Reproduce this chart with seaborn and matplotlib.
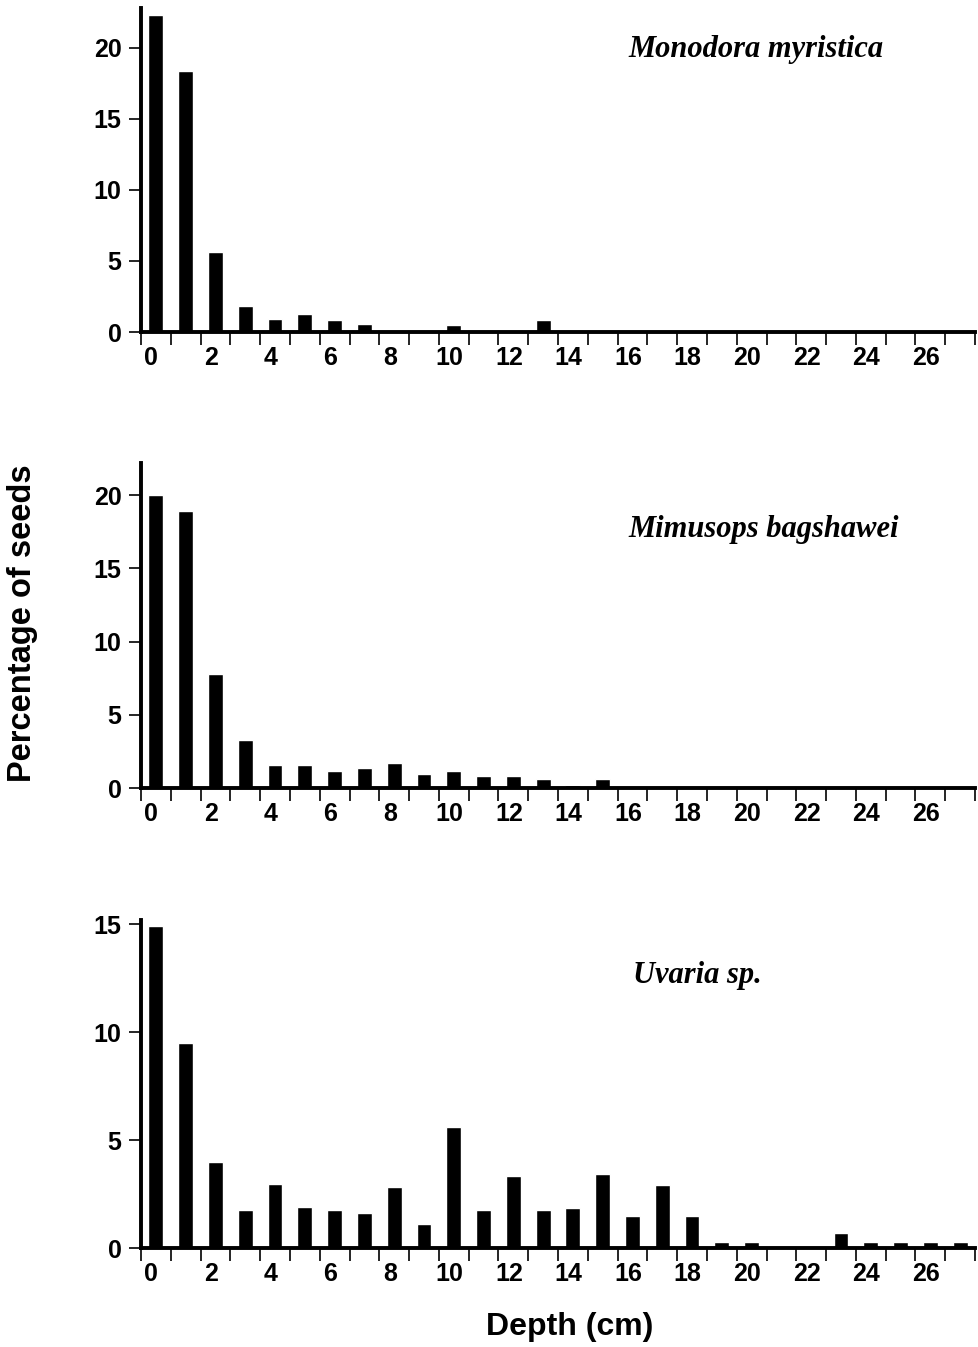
import numpy as np
import pandas as pd
import matplotlib
matplotlib.use("Agg")
import matplotlib.pyplot as plt
import seaborn as sns

# ---- data ----
depth_cm = list(range(28))
monodora = [22.3, 18.4, 5.6, 1.8, 0.9, 1.3, 0.85, 0.55, 0, 0, 0.5, 0, 0, 0.85,
            0, 0, 0, 0, 0, 0, 0, 0, 0, 0, 0, 0, 0, 0]
mimusops = [20.0, 18.9, 7.8, 3.3, 1.55, 1.55, 1.16, 1.4, 1.74, 0.98, 1.16, 0.8, 0.8, 0.64,
            0.2, 0.6, 0.15, 0.12, 0.15, 0.05, 0.05, 0, 0, 0, 0, 0, 0, 0]
uvaria = [14.9, 9.5, 4.0, 1.75, 2.95, 1.9, 1.75, 1.63, 2.85, 1.1, 5.6, 1.75, 3.33, 1.75,
          1.85, 3.45, 1.5, 2.92, 1.5, 0.3, 0.3, 0, 0, 0.7, 0.3, 0.3, 0.3, 0.3]
species = ["Monodora myristica", "Mimusops bagshawei", "Uvaria sp."]
y_ticks = [[0, 5, 10, 15, 20], [0, 5, 10, 15, 20], [0, 5, 10, 15]]
y_tops = [22.8, 22.2, 15.2]
x_tick_labels = [str(v) for v in range(0, 28, 2)]

series = [monodora, mimusops, uvaria]

sns.set_theme(style="white")
plt.rcParams['font.family'] = ['Liberation Sans', 'DejaVu Sans']
plt.rcParams['text.color'] = 'black'
plt.rcParams['xtick.color'] = 'black'
plt.rcParams['ytick.color'] = 'black'
plt.rcParams['axes.labelcolor'] = 'black'

fig = plt.figure(figsize=(9.79, 13.47), dpi=100)
W, H = 979, 1347
boxes = [(8, 332), (463, 788), (920, 1248)]
left_px, right_px = 141, 975

for k, (vals, (top, bot)) in enumerate(zip(series, boxes)):
    ax = fig.add_axes([left_px / W, 1 - bot / H, (right_px - left_px) / W, (bot - top) / H])
    df = pd.DataFrame({"depth": depth_cm, "pct": vals})
    sns.barplot(data=df, x="depth", y="pct", color="black", width=0.5,
                saturation=1, ax=ax, order=depth_cm)
    ax.set_xlim(-0.5, 27.5)
    ax.set_ylim(0, y_tops[k])
    ax.set_xlabel("")
    ax.set_ylabel("")
    for s in ["top", "right"]:
        ax.spines[s].set_visible(False)
    for s in ["left", "bottom"]:
        ax.spines[s].set_linewidth(2.8)
        ax.spines[s].set_color("black")
    # bin-edge ticks (minor) and labels near bin centres (major, no tick mark)
    ax.set_xticks(np.arange(-0.5, 28.0, 1.0), minor=True)
    ax.set_xticks([i - 0.15 for i in range(0, 28, 2)])
    ax.set_xticklabels(x_tick_labels, fontsize=18, fontweight="bold")
    ax.tick_params(axis="x", which="major", length=0, pad=10)
    ax.tick_params(axis="x", which="minor", length=9, width=1.2, color="black",
                   direction="out", bottom=True)
    ax.set_yticks(y_ticks[k])
    ax.set_yticklabels([str(v) for v in y_ticks[k]], fontsize=18, fontweight="bold")
    ax.tick_params(axis="y", length=9, width=1.2, color="black", direction="out",
                   left=True, pad=5)
    ax.grid(False)
    ax.set_facecolor("white")

title_pos = [(628, 50), (628, 530), (633, 975)]
for name, (tx, ty) in zip(species, title_pos):
    fig.text(tx / W, 1 - ty / H, name, fontsize=22, fontweight="bold",
             fontstyle="italic", family=["Liberation Serif", "DejaVu Serif"],
             ha="left", va="center", color="black")

fig.text(23 / W, 1 - 623 / H, "Percentage of seeds", rotation=90, fontsize=23.5,
         fontweight="bold", ha="center", va="center", color="black")
fig.text(570 / W, 1 - 1327 / H, "Depth (cm)", fontsize=23, fontweight="bold",
         ha="center", va="center", color="black")

fig.savefig("out.png", dpi=100, facecolor="white")
